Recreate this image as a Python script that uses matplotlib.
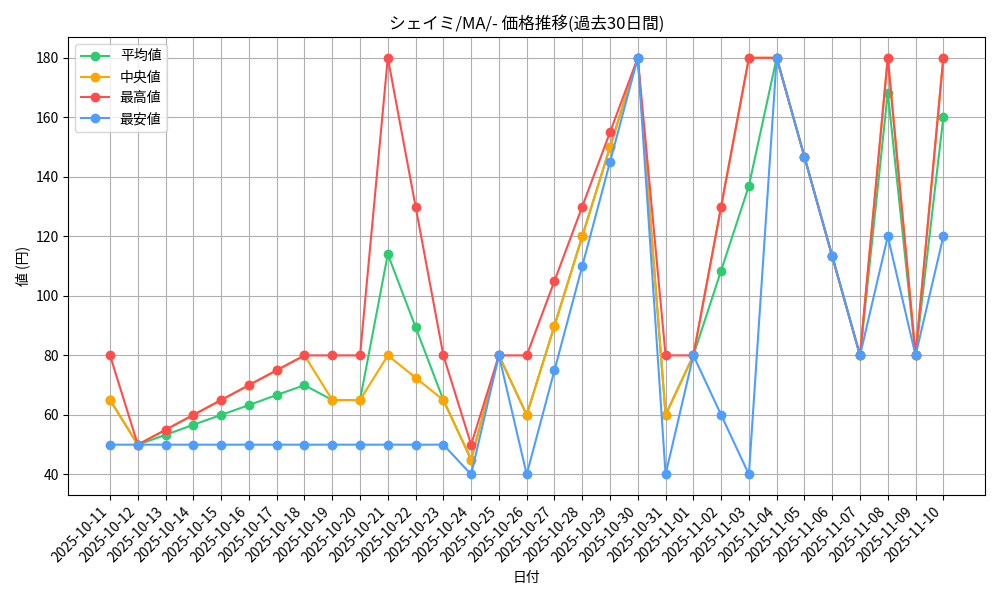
import matplotlib
matplotlib.use("Agg")
import matplotlib.pyplot as plt
import pandas as pd

plt.rcParams['font.family'] = ['Noto Sans CJK JP', 'DejaVu Sans']

dates = [d.strftime('%Y-%m-%d') for d in pd.date_range('2025-10-11', '2025-11-10')]
mean_v = [65,50,53.3,56.7,60,63.3,66.7,70,65,65,114,89.5,65,45,80,60,90,120,150,180,60,80,108.5,137,180,146.7,113.3,80,168.3,80,160]
median_v = [65,50,55,60,65,70,75,80,65,65,80,72.5,65,45,80,60,90,120,150,180,60,80,130,180,180,146.7,113.3,80,180,80,180]
max_v = [80,50,55,60,65,70,75,80,80,80,180,130,80,50,80,80,105,130,155,180,80,80,130,180,180,146.7,113.3,80,180,80,180]
min_v = [50,50,50,50,50,50,50,50,50,50,50,50,50,40,80,40,75,110,145,180,40,80,60,40,180,146.7,113.3,80,120,80,120]

fig, ax = plt.subplots(figsize=(10, 6), dpi=100)
x = range(len(dates))
ax.plot(x, mean_v, marker='o', color='#2ecc71', label='平均値')
ax.plot(x, median_v, marker='o', color='#ffa500', label='中央値')
ax.plot(x, max_v, marker='o', color='#ff4d4d', label='最高値')
ax.plot(x, min_v, marker='o', color='#4d9eff', label='最安値')
ax.set_xticks(list(x))
ax.set_xticklabels(dates, rotation=45, ha='right')
ax.set_title('シェイミ/MA/- 価格推移(過去30日間)')
ax.set_xlabel('日付')
ax.set_ylabel('値 (円)')
ax.grid(True)
ax.legend(loc='upper left')
fig.tight_layout()
fig.savefig('out.png')
